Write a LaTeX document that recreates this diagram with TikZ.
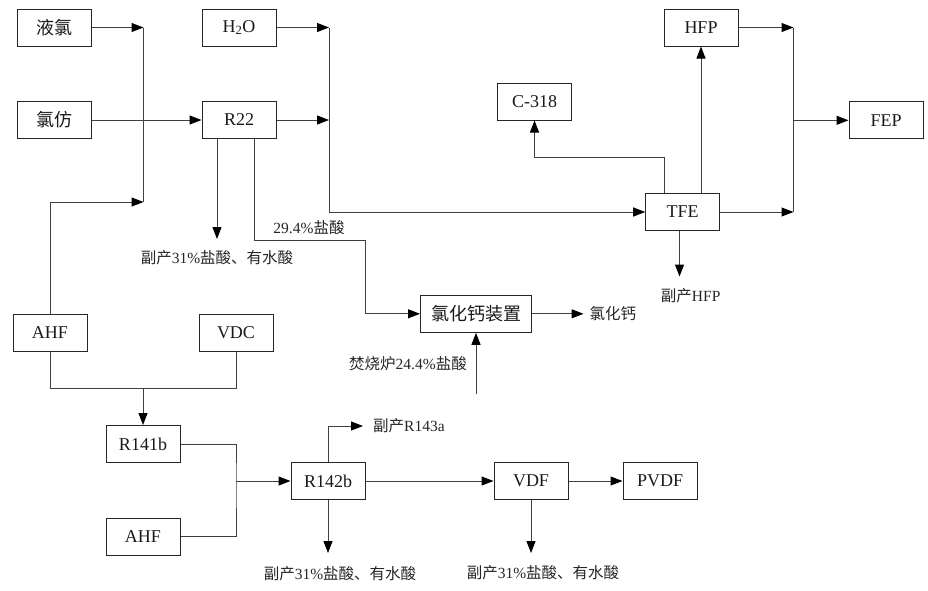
\documentclass[tikz,border=0pt]{standalone}
\usepackage{fontspec}
\setmainfont{Liberation Serif}
\newfontfamily\cjk{Noto Sans CJK SC}
\usetikzlibrary{arrows.meta}
\begin{document}
\begin{tikzpicture}[x=1pt,y=-1pt,
  box/.style={draw=black!85, line width=1pt, minimum width=74pt, minimum height=37pt,
    inner sep=0pt, font=\fontsize{18}{20}\selectfont, text=black!90},
  lbl/.style={inner sep=0pt, font=\fontsize{15.5}{17}\selectfont, text=black!85},
  flow/.style={draw=black!75, line width=1pt},
  arr/.style={flow, -{Triangle[length=12pt,width=9pt,color=black,fill=black]}},
]
\useasboundingbox (0,0) rectangle (928,590);

% process units
\node[box] (yelv)  at (54,27.5)   {\cjk 液氯};
\node[box] (lf)    at (54,120)    {\cjk 氯仿};
\node[box] (h2o)   at (239,27.5)  {H\textsubscript{2}O};
\node[box] (r22)   at (239,120)   {R22};
\node[box] (hfp)   at (701,27.5)  {HFP};
\node[box] (c318)  at (534.5,101.5) {C-318};
\node[box] (fep)   at (886,120.3) {FEP};
\node[box] (tfe)   at (682.7,212) {TFE};
\node[box, minimum width=111pt] (cacl) at (476,313.8) {\cjk 氯化钙装置};
\node[box] (ahf1)  at (50,333)    {AHF};
\node[box] (vdc)   at (236,333)   {VDC};
\node[box] (r141b) at (143,444)   {R141b};
\node[box] (ahf2)  at (143,536.5) {AHF};
\node[box] (r142b) at (328,481)   {R142b};
\node[box] (vdf)   at (531,481)   {VDF};
\node[box] (pvdf)  at (660,481)   {PVDF};

% junctions and free ends
\coordinate (ja) at (143.5,27.5);
\coordinate (jb) at (143.5,202);
\coordinate (jc) at (329,27.5);
\coordinate (jd) at (329,120);
\coordinate (r22out) at (217,239);
\coordinate (hcl) at (365,240);
\coordinate (caout) at (583.5,313.8);
\coordinate (incin) at (476,394);
\coordinate (c318j) at (534.5,157);
\coordinate (tfeout) at (679.5,276.5);
\coordinate (jf) at (793.5,27.5);
\coordinate (jg) at (793.5,212);
\coordinate (jh) at (793.5,120.3);
\coordinate (jk) at (143,388);
\coordinate (jm) at (236,481);
\coordinate (r143) at (363,426);
\coordinate (r142out) at (328,553);
\coordinate (vdfout) at (531,553);

% R22 feed
\draw[arr] (yelv.east) -- (ja);
\draw[flow] (ja) -- (jb);
\draw[arr] (ahf1.north) |- (jb);
\draw[arr] (lf.east) -- (r22.west);

% TFE feed
\draw[arr] (h2o.east) -- (jc);
\draw[arr] (r22.east) -- (jd);
\draw[arr] (jc) |- (tfe.west);

% R22 by-products
\draw[arr] (r22out |- r22.south) -- (r22out);
\node[lbl] (l1) at (217,258) {{\cjk 副产}31\%{\cjk 盐酸、有水酸}};
\draw[arr] ([xshift=15pt]r22.south) |- (hcl) |- (cacl.west);
\node[lbl] (l2) at (309,228) {29.4\%{\cjk 盐酸}};

% calcium chloride unit
\draw[arr] (cacl.east) -- (caout);
\node[lbl, anchor=west] (l3) at (589.5,313.8) {\cjk 氯化钙};
\draw[arr] (incin) -- (cacl.south);
\node[lbl] (l4) at (408,364) {{\cjk 焚烧炉}24.4\%{\cjk 盐酸}};

% TFE products
\draw[arr] ([xshift=-18.7pt]tfe.north) |- (c318j) -- (c318.south);
\draw[arr] (tfe.north -| hfp) -- (hfp.south);
\draw[arr] (tfeout |- tfe.south) -- (tfeout);
\node[lbl] (l5) at (690.7,296) {{\cjk 副产}HFP};
\draw[arr] (hfp.east) -- (jf);
\draw[arr] (tfe.east) -- (jg);
\draw[flow] (jf) -- (jg);
\draw[arr] (jh) -- (fep.west);

% VDF / PVDF chain
\draw[flow] (ahf1.south) |- (jk) -| (vdc.south);
\draw[arr] (jk) -- (r141b.north);
\draw[flow] (r141b.east) -| (jm) |- (ahf2.east);
\draw[arr] (jm) -- (r142b.west);
\draw[arr] (r142b.north) |- (r143);
\node[lbl, anchor=west] (l6) at (373,426) {{\cjk 副产}R143a};
\draw[arr] (r142b.south) -- (r142out);
\node[lbl] (l7) at (340,574) {{\cjk 副产}31\%{\cjk 盐酸、有水酸}};
\draw[arr] (r142b.east) -- (vdf.west);
\draw[arr] (vdf.east) -- (pvdf.west);
\draw[arr] (vdf.south) -- (vdfout);
\node[lbl] (l8) at (543,573) {{\cjk 副产}31\%{\cjk 盐酸、有水酸}};
\end{tikzpicture}
\end{document}
